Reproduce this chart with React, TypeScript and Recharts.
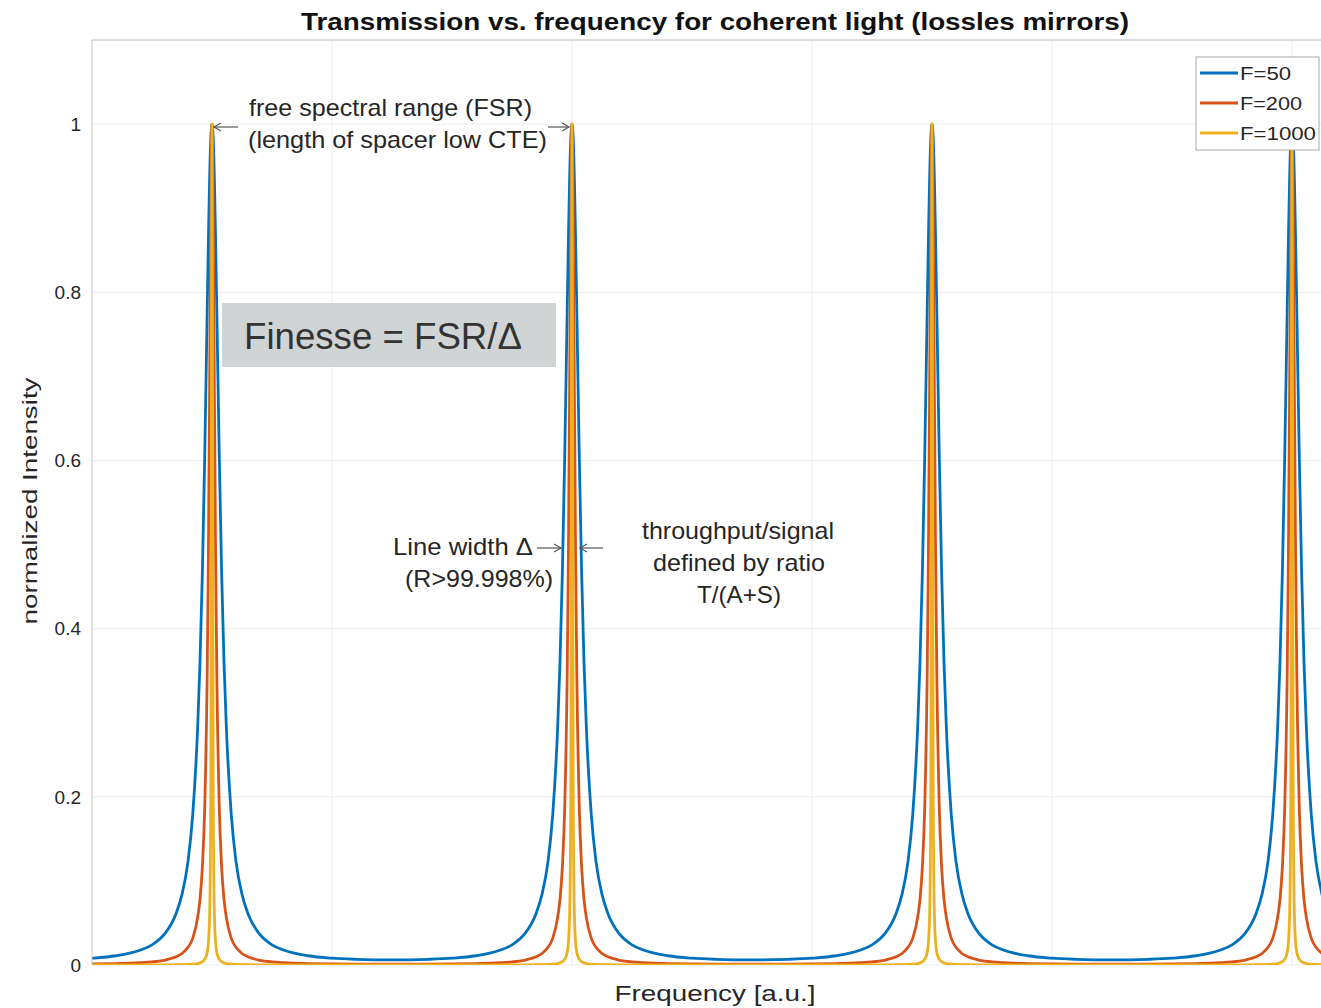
import React from 'react';
import { LineChart, Line, XAxis, YAxis, CartesianGrid, ReferenceLine } from 'recharts';

// Airy transmission peaks, one free spectral range = 1.5 frequency units
const peakCenters = [0.5, 2.0, 3.5, 5.0];

// distance from a peak centre (frequency units) and the transmission read at that distance
const peakOffsets = [0, 0.005, 0.01, 0.015, 0.02, 0.03, 0.04, 0.05, 0.06, 0.08, 0.1, 0.125, 0.15, 0.2, 0.25, 0.3, 0.4, 0.5, 0.6, 0.75];
const f50 = [1, 0.983, 0.934, 0.862, 0.779, 0.61, 0.468, 0.36, 0.281, 0.18, 0.123, 0.084, 0.061, 0.036, 0.024, 0.0175, 0.011, 0.0081, 0.0068, 0.0061];
const f200 = [1, 0.895, 0.68, 0.486, 0.347, 0.191, 0.117, 0.078, 0.056, 0.032, 0.021, 0.0137, 0.0097, 0.0056, 0.0037, 0.0027, 0.0017, 0.0012, 0.001, 0.0009];
const f1000 = [1, 0.2, 0.059, 0.027, 0.015, 0.0069, 0.0039, 0.0025, 0.0017, 0.001, 0.0006, 0.0004, 0.0003, 0.0002, 0.0002, 0.0001, 0.0001, 0.0001, 0.0001, 0.0001];

const yTicks = [0, 0.2, 0.4, 0.6, 0.8, 1];
const xTicks = [1, 2, 3, 4, 5];

const seriesInfo = [
  { key: 'f50', name: 'F=50', color: '#0072BD', labelWidth: 51 },
  { key: 'f200', name: 'F=200', color: '#D95319', labelWidth: 62 },
  { key: 'f1000', name: 'F=1000', color: '#EDB120', labelWidth: 76 },
];

const buildRows = () => {
  const rows = new Map<string, any>();
  peakCenters.forEach((c) => {
    peakOffsets.forEach((o, i) => {
      [-1, 1].forEach((side) => {
        const freq = +(c + side * o).toFixed(4);
        rows.set(freq.toFixed(4), { freq, f50: f50[i], f200: f200[i], f1000: f1000[i] });
      });
    });
  });
  return Array.from(rows.values()).sort((a, b) => a.freq - b.freq);
};

const chartData = buildRows();

const FONT = '"Liberation Sans", Arial, Helvetica, sans-serif';
const TEXT = '#262626';

const Arrow = ({ x1, x2, y }: { x1: number; x2: number; y: number }) => {
  const dir = x2 > x1 ? 1 : -1;
  return (
    <g stroke="#555" strokeWidth={1.2} fill="none">
      <line x1={x1} y1={y} x2={x2} y2={y} />
      <polyline points={`${x2 - dir * 7},${y - 4} ${x2},${y} ${x2 - dir * 7},${y + 4}`} />
    </g>
  );
};

// annotation text squeezed/stretched to a fixed width
const Note = ({ x, y, w, children, size = 24, anchor = 'start' }: any) => (
  <text x={x} y={y} fontSize={size} fill={TEXT} textAnchor={anchor} textLength={w} lengthAdjust="spacingAndGlyphs">
    {children}
  </text>
);

export default function App() {
  return (
    <div style={{ position: 'absolute', left: 0, top: 0, width: 1321, height: 1008, overflow: 'hidden', background: '#fff' }}>
      <LineChart
        width={1480}
        height={1008}
        data={chartData}
        margin={{ top: 40, right: 8, left: 0, bottom: 43 }}
      >
        <CartesianGrid stroke="#ececec" strokeWidth={1} vertical={false} />
        {xTicks.map((t) => (
          <ReferenceLine key={t} x={t} stroke="#ececec" />
        ))}
        <XAxis
          type="number"
          dataKey="freq"
          domain={[0, 5.75]}
          ticks={xTicks}
          tick={false}
          tickLine={false}
          allowDataOverflow
          stroke="#c4c4c4"
          height={0}
        />
        <YAxis
          type="number"
          domain={[0, 1.1]}
          ticks={yTicks}
          tickFormatter={(v: number) => `${+v.toFixed(1)}`}
          tickLine={false}
          tickSize={0}
          tickMargin={11}
          width={92}
          allowDataOverflow
          stroke="#c4c4c4"
          tick={{ fill: TEXT, fontSize: 19, fontFamily: FONT }}
        />
        <ReferenceLine y={1.1} stroke="#c4c4c4" />
        {seriesInfo.map((s) => (
          <Line
            key={s.key}
            type="monotone"
            dataKey={s.key}
            name={s.name}
            stroke={s.color}
            strokeWidth={2.8}
            dot={false}
            isAnimationActive={false}
          />
        ))}
      </LineChart>

      {/* title, axis labels, annotations and legend */}
      <svg width={1321} height={1008} style={{ position: 'absolute', left: 0, top: 0 }} fontFamily={FONT}>
        <text x={715} y={30} textAnchor="middle" fontSize={23} fontWeight="bold" fill="#111" textLength={828} lengthAdjust="spacingAndGlyphs">
          Transmission vs. frequency for coherent light (lossles mirrors)
        </text>
        <Note x={715} y={1001} w={201} size={22} anchor="middle">Frequency [a.u.]</Note>
        <text x={0} y={0} transform="translate(37,501) rotate(-90)" textAnchor="middle" fontSize={21} fill={TEXT} textLength={247} lengthAdjust="spacingAndGlyphs">
          normalized Intensity
        </text>

        <Note x={249} y={116} w={283}>free spectral range (FSR)</Note>
        <Note x={248} y={148} w={299}>(length of spacer low CTE)</Note>
        <Arrow x1={238} x2={214} y={127} />
        <Arrow x1={548} x2={569} y={127} />

        <rect x={222} y={303} width={334} height={64} fill="#d1d4d5" />
        <text x={244} y={349} fontSize={36} fill="#333" textLength={278} lengthAdjust="spacingAndGlyphs">Finesse = FSR/Δ</text>

        <Note x={393} y={555} w={140}>Line width Δ</Note>
        <Note x={405} y={587} w={148}>(R&gt;99.998%)</Note>
        <Arrow x1={537} x2={561} y={548} />
        <Arrow x1={603} x2={580} y={548} />

        <Note x={738} y={539} w={192} anchor="middle">throughput/signal</Note>
        <Note x={739} y={571} w={172} anchor="middle">defined by ratio</Note>
        <Note x={739} y={603} w={84} anchor="middle">T/(A+S)</Note>

        <rect x={1196} y={57} width={123} height={93} fill="#fff" stroke="#a8a8a8" strokeWidth={1} />
        {seriesInfo.map((s, i) => (
          <g key={s.key}>
            <line x1={1200} x2={1238} y1={73 + i * 30} y2={73 + i * 30} stroke={s.color} strokeWidth={2.8} />
            <Note x={1240} y={80 + i * 30} w={s.labelWidth} size={19}>{s.name}</Note>
          </g>
        ))}
      </svg>
    </div>
  );
}
